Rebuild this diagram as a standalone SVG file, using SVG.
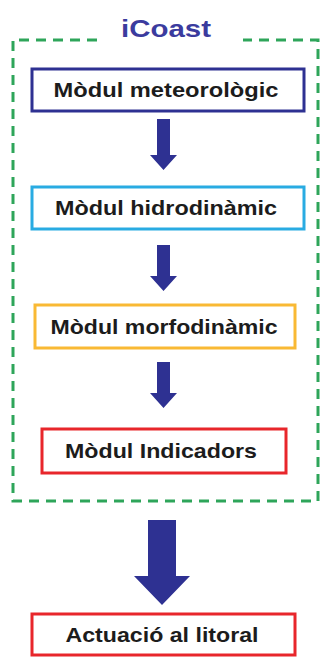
<svg xmlns="http://www.w3.org/2000/svg" width="320" height="657" viewBox="0 0 320 657">
<style>
.box{fill:#fff;stroke-width:3}
.lbl{font-family:"Liberation Sans",Arial,sans-serif;font-weight:bold;font-size:21px;fill:#1c1c1c;text-anchor:middle}
.arr{fill:#2e3192}
.frame{fill:none;stroke:#2ea55a;stroke-width:3;stroke-dasharray:10 7}
</style>
<rect width="320" height="657" fill="#fff"/>
<g id="icoast">
<path class="frame" d="M97,40 H13 V501 H318 V40 H243"/>
<text x="166" y="37" font-family="Liberation Sans,Arial,sans-serif" font-weight="bold" font-size="24" fill="#3b3b9e" text-anchor="middle" textLength="90" lengthAdjust="spacingAndGlyphs">iCoast</text>
</g>
<g id="connectors">
<polygon class="arr" points="157,119 170,119 170,155 177,155 163.5,170 150,155 157,155"/>
<polygon class="arr" points="157,245 170,245 170,276 177,276 163.5,291 150,276 157,276"/>
<polygon class="arr" points="157,362 170,362 170,393 177,393 163.5,408 150,393 157,393"/>
<polygon class="arr" points="148,520 176,520 176,576 190,576 162,605 134,576 148,576"/>
</g>
<g id="meteo">
<rect class="box" x="32" y="69" width="272" height="42" stroke="#2e3192"/>
<text class="lbl" x="166" y="97" textLength="225" lengthAdjust="spacingAndGlyphs">Mòdul meteorològic</text>
</g>
<g id="hidro">
<rect class="box" x="32" y="187" width="272" height="42" stroke="#29abe2"/>
<text class="lbl" x="166" y="215" textLength="222" lengthAdjust="spacingAndGlyphs">Mòdul hidrodinàmic</text>
</g>
<g id="morfo">
<rect class="box" x="35" y="305" width="260" height="43" stroke="#f9b934"/>
<text class="lbl" x="164" y="334" textLength="227" lengthAdjust="spacingAndGlyphs">Mòdul morfodinàmic</text>
</g>
<g id="indic">
<rect class="box" x="42" y="429" width="244" height="44" stroke="#e8262b"/>
<text class="lbl" x="161" y="458" textLength="192" lengthAdjust="spacingAndGlyphs">Mòdul Indicadors</text>
</g>
<g id="actuacio">
<rect class="box" x="32" y="614" width="263" height="41" stroke="#e8262b"/>
<text class="lbl" x="162" y="642" textLength="193" lengthAdjust="spacingAndGlyphs">Actuació al litoral</text>
</g>
</svg>
